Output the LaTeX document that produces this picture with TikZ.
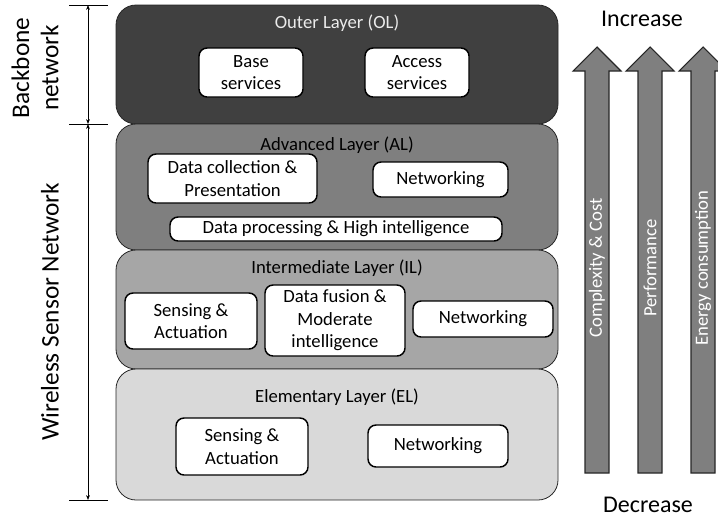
\documentclass[tikz,border=0pt]{standalone}
\usepackage{fontspec}
\setmainfont{Carlito}
\usepackage{tikz}
\usetikzlibrary{arrows.meta,positioning,calc}
\definecolor{olc}{HTML}{404040}
\definecolor{alc}{HTML}{7F7F7F}
\definecolor{ilc}{HTML}{A6A6A6}
\definecolor{elc}{HTML}{D9D9D9}
\definecolor{edge}{HTML}{262626}
\tikzset{
  >={Stealth[length=1.3mm,width=1mm]},
  layer/.style={draw=edge,line width=0.6pt,rounded corners=15pt},
  box/.style={draw=black,fill=white,rounded corners=6pt,line width=1.1pt,inner sep=0pt,font=\fontsize{14}{17}\selectfont,align=center},
  lay/.style={font=\fontsize{14}{17}\selectfont},
  side/.style={font=\fontsize{19}{22}\selectfont,align=center,rotate=90},
  big/.style={font=\fontsize{18}{22}\selectfont},
  bar/.style={draw=edge,fill=alc,line width=0.8pt},
  barlab/.style={font=\fontsize{14}{17}\selectfont,text=white,rotate=90},
  dim/.style={line width=0.5pt},
}
\begin{document}
\begin{tikzpicture}[x=0.75pt,y=-0.75pt]
\useasboundingbox (0,0) rectangle (718,518);
% layers
\draw[layer,fill=olc] (116,5) rectangle (558,124);
\draw[layer,fill=alc] (116,124) rectangle (558,250);
\draw[layer,fill=ilc] (116,250) rectangle (558,369);
\draw[layer,fill=elc] (116,369) rectangle (558,500);
\node[lay,text=white!92!black] (ol) at (337,23) {Outer Layer (OL)};
\node[lay] (al) at (337,145) {Advanced Layer (AL)};
\node[lay] (il) at (337,268) {Intermediate Layer (IL)};
\node[lay] (el) at (337,397) {Elementary Layer (EL)};
% boxes
\node[box,minimum width=78pt,minimum height=36.75pt] (base) at (251,72.5) {Base\\services};
\node[box,minimum width=78pt,minimum height=36.75pt] (access) at (417,72.5) {Access\\services};
\node[box,minimum width=126.75pt,minimum height=36.75pt] (dcp) at (232.5,178.5) {Data collection \&\\Presentation};
\node[box,minimum width=101.25pt,minimum height=26.25pt] (alnet) at (440.5,179.5) {Networking};
\node[box,minimum width=249pt,minimum height=18pt] (dphi) at (336,229) {Data processing \& High intelligence};
\node[box,minimum width=99pt,minimum height=42pt] (ilsa) at (191,321) {Sensing \&\\Actuation};
\node[box,minimum width=105pt,minimum height=53.25pt] (dfmi) at (335,320.5) {Data fusion \&\\Moderate\\intelligence};
\node[box,minimum width=105pt,minimum height=27pt] (ilnet) at (483,319) {Networking};
\node[box,minimum width=99pt,minimum height=42.75pt] (elsa) at (242,446.5) {Sensing \&\\Actuation};
\node[box,minimum width=105pt,minimum height=31.5pt] (elnet) at (438,446) {Networking};
% left scale
\coordinate (t0) at (88,5);
\coordinate (t1) at (88,124);
\coordinate (t2) at (88,500);
\draw[dim,<->] (t0) -- (t1);
\draw[dim,<->] (t1) -- (t2);
\foreach \t in {t0,t1,t2}
  \draw[dim] ($(\t)+(-19,0)$) -- ($(\t)+(20,0)$);
\node[side] (bb) at (35,68) {Backbone\\network};
\node[side] (wsn) at (50,312) {Wireless Sensor Network};
% trend arrows
\foreach \cx/\txt [count=\i] in {597/Complexity \& Cost,650/Performance,703/Energy consumption} {
  \draw[bar] (\cx-12,473) -- (\cx-12,71) -- (\cx-24,71) -- (\cx,47) -- (\cx+24,71) -- (\cx+12,71) -- (\cx+12,473) -- cycle;
  \node[barlab] (bar\i) at (\cx,268) {\txt};
}
\node[big] (inc) at (642,19) {Increase};
\node[big] (dec) at (648,505) {Decrease};
\end{tikzpicture}
\end{document}
